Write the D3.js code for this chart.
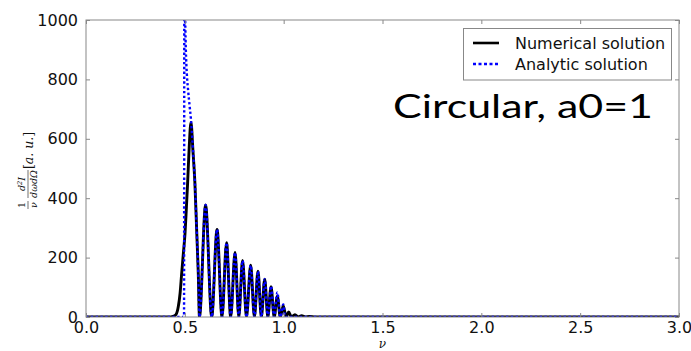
<!DOCTYPE html>
<html>
<head>
<meta charset="utf-8">
<script src="https://cdn.jsdelivr.net/npm/d3@7"></script>
<style>
  html, body { margin: 0; padding: 0; background: #fff; }
  svg { display: block; }
</style>
</head>
<body>
<svg id="chart" width="691" height="351"></svg>
<script>
// ---- data ----
const xTicks = [0.0, 0.5, 1.0, 1.5, 2.0, 2.5, 3.0];
const yTicks = [0, 200, 400, 600, 800, 1000];

const nuNumerical = [0, 0.42, 0.44, 0.455, 0.467, 0.476, 0.484, 0.492, 0.501, 0.508, 0.514, 0.522, 0.531,
  0.541, 0.551, 0.560, 0.568, 0.574, 0.605, 0.636, 0.663, 0.688, 0.711, 0.732, 0.754, 0.773, 0.792,
  0.812, 0.833, 0.852, 0.870, 0.887, 0.904, 0.920, 0.936, 0.952, 0.968, 0.983, 0.998, 1.012, 1.025,
  1.040, 1.057, 1.073, 1.091, 1.11, 1.13, 1.16, 3.0];
const numerical = [0, 0, 2, 8, 35, 80, 147, 210, 282, 370, 450, 570, 655,
  560, 450, 290, 147, 0, 377, 0, 295, 0, 250, 0, 217, 0, 190,
  0, 174, 0, 154, 0, 127, 0, 102, 0, 70, 0, 38, 0, 17,
  0, 8, 0, 4, 0, 2, 0, 0];

const nuAnalytic = [0, 0.496, 0.4975, 0.500, 0.505, 0.510, 0.517, 0.525, 0.531, 0.541, 0.551, 0.560,
  0.568, 0.574, 0.605, 0.636, 0.663, 0.688, 0.711, 0.732, 0.754, 0.773, 0.792, 0.812, 0.833, 0.852,
  0.870, 0.887, 0.904, 0.920, 0.936, 0.952, 0.968, 0.983, 0.998, 1.008, 3.0];
const analytic = [0, 0, 1150, 1060, 900, 820, 760, 705, 665, 565, 452, 292,
  148, 0, 377, 0, 295, 0, 250, 0, 217, 0, 190, 0, 174, 0,
  154, 0, 127, 0, 104, 0, 83, 0, 42, 0, 0];

const seriesNames = ["Numerical solution", "Analytic solution"];
const annotation = "Circular, a0=1";

// ---- layout ----
const svg = d3.select("#chart");
const L = 86, R = 679, T = 20, B = 317;
const x = d3.scaleLinear().domain([0, 3]).range([L, R]);
const y = d3.scaleLinear().domain([0, 1000]).range([B, T]);
const axisColor = "#888";
const textColor = "#111";

svg.append("defs").append("clipPath").attr("id", "plotclip")
  .append("rect").attr("x", L).attr("y", T).attr("width", R - L).attr("height", B - T);

// curves
const line = (xs, ys) => d3.line()
  .x((d, i) => x(xs[i])).y((d, i) => y(ys[i]))
  .curve(d3.curveMonotoneX)(ys);

const plot = svg.append("g").attr("clip-path", "url(#plotclip)");
plot.append("path").attr("d", line(nuNumerical, numerical))
  .attr("fill", "none").attr("stroke", "#000").attr("stroke-width", 2.9)
  .attr("stroke-linejoin", "round");
plot.append("path").attr("d", line(nuAnalytic, analytic))
  .attr("fill", "none").attr("stroke", "#0000ff").attr("stroke-width", 2.4)
  .attr("stroke-dasharray", "2.4,2.4");

// axes (ticks inward, all four sides)
const tickLen = 4;
const fmtX = d3.format(".1f");
const axB = svg.append("g").attr("transform", `translate(0,${B})`)
  .call(d3.axisBottom(x).tickValues(xTicks).tickFormat(fmtX).tickSizeInner(-tickLen).tickSizeOuter(0).tickPadding(5));
const axT = svg.append("g").attr("transform", `translate(0,${T})`)
  .call(d3.axisTop(x).tickValues(xTicks).tickFormat("").tickSizeInner(-tickLen).tickSizeOuter(0));
const axL = svg.append("g").attr("transform", `translate(${L},0)`)
  .call(d3.axisLeft(y).tickValues(yTicks).tickFormat(d3.format("d")).tickSizeInner(-tickLen).tickSizeOuter(0).tickPadding(8));
const axR = svg.append("g").attr("transform", `translate(${R},0)`)
  .call(d3.axisRight(y).tickValues(yTicks).tickFormat("").tickSizeInner(-tickLen).tickSizeOuter(0));

[axB, axT, axL, axR].forEach(a => {
  a.select(".domain").remove();
  a.selectAll(".tick line").attr("stroke", axisColor);
  a.selectAll("text").attr("font-family", "DejaVu Sans").attr("font-size", 16).attr("fill", textColor);
});
axB.selectAll("text").attr("dy", "0.71em");

svg.append("rect").attr("x", L).attr("y", T).attr("width", R - L).attr("height", B - T)
  .attr("fill", "none").attr("stroke", axisColor).attr("stroke-width", 1);

// x label
svg.append("text").attr("x", (L + R) / 2).attr("y", 348).attr("text-anchor", "middle")
  .attr("font-family", "DejaVu Serif").attr("font-style", "italic").attr("font-size", 12)
  .attr("fill", textColor).text("ν");

// y label: 1/ν d²I/dωdΩ [a. u.]
const yl = svg.append("g").attr("transform", "translate(28,210) rotate(-90)")
  .attr("font-family", "DejaVu Serif").attr("fill", textColor);
function frac(cx, num, den, w, fs) {
  yl.append("text").attr("x", cx).attr("y", -3).attr("text-anchor", "middle")
    .attr("font-size", fs).attr("font-style", "italic").html(num);
  yl.append("line").attr("x1", cx - w / 2).attr("x2", cx + w / 2).attr("y1", 0).attr("y2", 0)
    .attr("stroke", textColor).attr("stroke-width", 0.6);
  yl.append("text").attr("x", cx).attr("y", 9).attr("text-anchor", "middle")
    .attr("font-size", fs).attr("font-style", "italic").html(den);
}
frac(5, '<tspan font-style="normal">1</tspan>', "ν", 8, 9.5);
frac(26, 'd<tspan font-size="6.5" dy="-3.5">2</tspan><tspan dy="3.5">I</tspan>', "dωdΩ", 28, 9.5);
yl.append("text").attr("x", 41).attr("y", 4.5).attr("font-size", 13)
  .attr("textLength", 37).attr("lengthAdjust", "spacingAndGlyphs")
  .html('[<tspan font-style="italic">a.</tspan> <tspan font-style="italic">u.</tspan>]');

// legend
const lg = svg.append("g");
lg.append("rect").attr("x", 463.5).attr("y", 28.5).attr("width", 208).attr("height", 51.5)
  .attr("fill", "#fff").attr("stroke", axisColor).attr("stroke-width", 1);
const rows = [
  { name: seriesNames[0], color: "#000", dash: null, w: 2.6, yy: 43 },
  { name: seriesNames[1], color: "#0000ff", dash: "3,2.5", w: 2.3, yy: 64 }
];
rows.forEach(r => {
  lg.append("line").attr("x1", 473).attr("x2", 499).attr("y1", r.yy).attr("y2", r.yy)
    .attr("stroke", r.color).attr("stroke-width", r.w).attr("stroke-dasharray", r.dash);
  lg.append("text").attr("x", 515).attr("y", r.yy + 5.5).attr("font-family", "DejaVu Sans")
    .attr("font-size", 16).attr("fill", textColor).text(r.name);
});

// annotation
svg.append("text").attr("x", 393).attr("y", 118).attr("font-family", "Lato")
  .attr("font-size", 33).attr("fill", "#000")
  .attr("textLength", 260).attr("lengthAdjust", "spacingAndGlyphs").text(annotation);
</script>
</body>
</html>
